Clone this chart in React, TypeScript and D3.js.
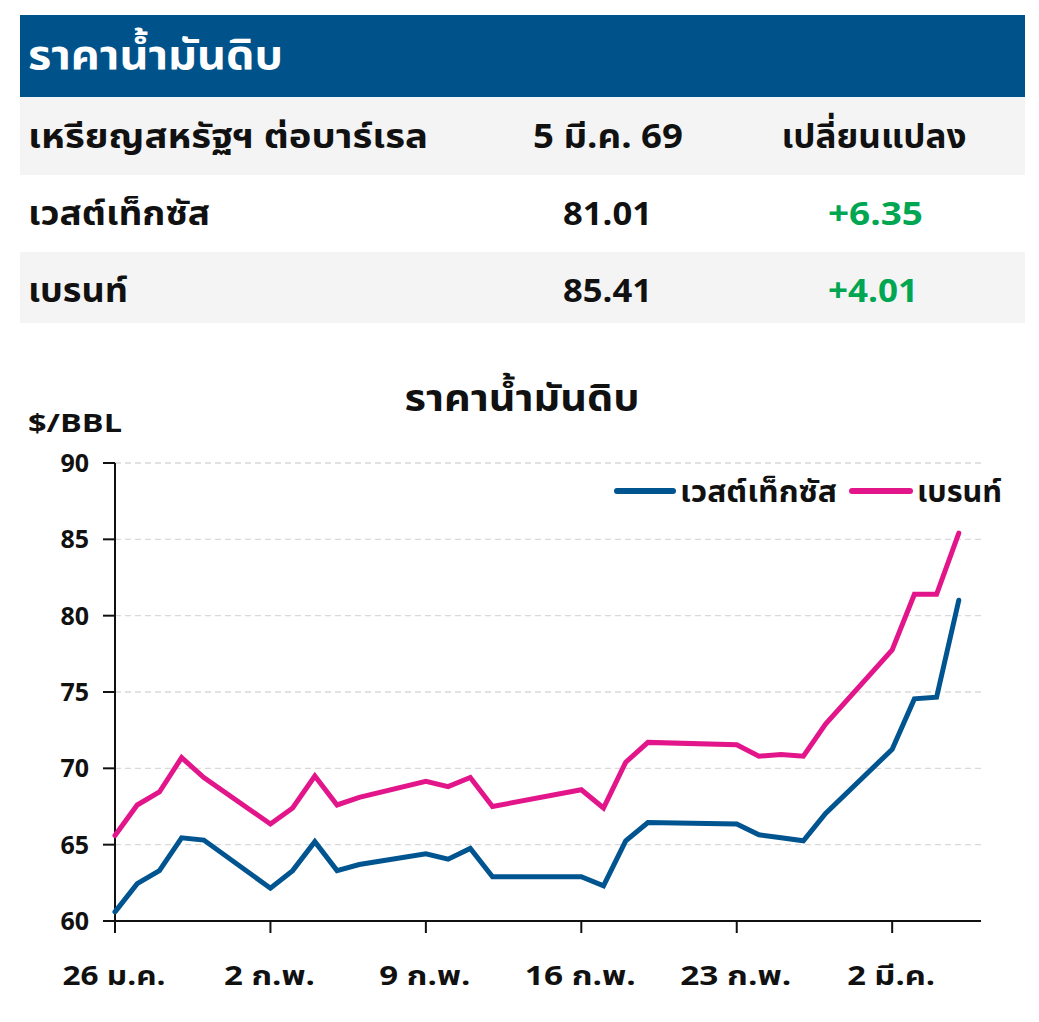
import React from "react";
import * as d3 from "d3";

const dates = [
  "2026-01-26", "2026-01-27", "2026-01-28", "2026-01-29", "2026-01-30",
  "2026-02-02", "2026-02-03", "2026-02-04", "2026-02-05", "2026-02-06",
  "2026-02-09", "2026-02-10", "2026-02-11", "2026-02-12", "2026-02-16",
  "2026-02-17", "2026-02-18", "2026-02-19", "2026-02-23", "2026-02-24",
  "2026-02-25", "2026-02-26", "2026-02-27", "2026-03-02", "2026-03-03",
  "2026-03-04", "2026-03-05",
];
const wti = [
  60.6, 62.45, 63.3, 65.45, 65.3,
  62.15, 63.3, 65.2, 63.3, 63.7,
  64.4, 64.05, 64.75, 62.9, 62.9,
  62.3, 65.25, 66.45, 66.35, 65.65,
  65.45, 65.25, 67.05, 71.25, 74.55,
  74.66, 81.01,
];
const brent = [
  65.6, 67.6, 68.45, 70.7, 69.4,
  66.35, 67.4, 69.5, 67.6, 68.1,
  69.15, 68.8, 69.4, 67.5, 68.6,
  67.4, 70.4, 71.7, 71.55, 70.8,
  70.9, 70.8, 72.9, 77.75, 81.4,
  81.4, 85.41,
];
const yTicks = [60, 65, 70, 75, 80, 85, 90];
const xTickDates = ["2026-01-26", "2026-02-02", "2026-02-09", "2026-02-16", "2026-02-23", "2026-03-02"];
const xTickLabels = ["26 ม.ค.", "2 ก.พ.", "9 ก.พ.", "16 ก.พ.", "23 ก.พ.", "2 มี.ค."];
const xTickLabelWidths = [103, 91, 91, 111, 111, 88];

const tableTitle = "ราคาน้ำมันดิบ";
const tableHeader = ["เหรียญสหรัฐฯ ต่อบาร์เรล", "5 มี.ค. 69", "เปลี่ยนแปลง"];
const tableRows = [
  { name: "เวสต์เท็กซัส", price: "81.01", change: "+6.35" },
  { name: "เบรนท์", price: "85.41", change: "+4.01" },
];
const rowNameWidths = [182, 100];
const rowChangeWidths = [95, 90];
const chartTitle = "ราคาน้ำมันดิบ";
const unitLabel = "$/BBL";
const seriesNames = ["เวสต์เท็กซัส", "เบรนท์"];

const BLUE = "#00548f";
const PINK = "#e2168a";
const HEADER = "#00528a";
const GREEN = "#00a651";
const FONT = "'Noto Sans Thai', 'Noto Sans', 'Liberation Sans', sans-serif";

type TP = {
  x: number; y: number; w?: number; size: number; fill?: string;
  anchor?: "start" | "middle" | "end"; children: string;
};
function T({ x, y, w, size, fill = "#111", anchor = "start", children }: TP) {
  return (
    <text
      x={x} y={y} fontSize={size} fontWeight={700} fill={fill} textAnchor={anchor}
      textLength={w} lengthAdjust={w ? "spacingAndGlyphs" : undefined}
    >
      {children}
    </text>
  );
}

export default function App() {
  const W = 1039, H = 1022;
  const parse = d3.timeParse("%Y-%m-%d");
  const x = d3.scaleTime()
    .domain([parse("2026-01-26")!, parse("2026-03-06")!])
    .range([115, 981]);
  const y = d3.scaleLinear().domain([60, 90]).range([921, 463]);
  const pts = dates.map((d) => parse(d)!);
  const line = d3.line<number>()
    .x((_, i) => x(pts[i]))
    .y((v) => y(v));

  const rowYs = [[97, 175, "#f4f4f4"], [175, 252, "#ffffff"], [252, 323, "#f4f4f4"]] as const;

  return (
    <svg width={W} height={H} viewBox={`0 0 ${W} ${H}`} style={{ position: "absolute", left: 0, top: 0, fontFamily: FONT }}>
      <rect x={0} y={0} width={W} height={H} fill="#fff" />
      {/* table */}
      <rect x={20} y={15} width={1005} height={82} fill={HEADER} />
      <T x={28} y={69} w={255} size={40} fill="#fff">{tableTitle}</T>
      {rowYs.map(([a, b, c], i) => (
        <rect key={i} x={20} y={a} width={1005} height={b - a} fill={c} />
      ))}
      <T x={28} y={148} w={400} size={34}>{tableHeader[0]}</T>
      <T x={608} y={148} w={150} size={34} anchor="middle">{tableHeader[1]}</T>
      <T x={874} y={148} w={185} size={34} anchor="middle">{tableHeader[2]}</T>
      {tableRows.map((r, i) => {
        const by = [225, 302][i];
        return (
          <g key={i}>
            <T x={28} y={by} w={rowNameWidths[i]} size={34}>{r.name}</T>
            <T x={607.5} y={by} w={89} size={32} anchor="middle">{r.price}</T>
            <T x={875.5 - i * 2.5} y={by} w={rowChangeWidths[i]} size={32} fill={GREEN} anchor="middle">{r.change}</T>
          </g>
        );
      })}

      {/* chart title */}
      <T x={522} y={411} w={235} size={37} anchor="middle">{chartTitle}</T>
      <T x={28} y={432} w={94} size={25}>{unitLabel}</T>

      {/* gridlines */}
      {yTicks.filter((t) => t > 60).map((t) => (
        <line key={t} x1={115} x2={981} y1={y(t)} y2={y(t)} stroke="#d9d9d9" strokeWidth={1.4} strokeDasharray="6 4" />
      ))}
      {/* y axis */}
      <line x1={115} x2={115} y1={y(90)} y2={y(60)} stroke="#111" strokeWidth={2} />
      {yTicks.map((t) => (
        <g key={t}>
          <line x1={103} x2={115} y1={y(t)} y2={y(t)} stroke="#111" strokeWidth={2} />
          <T x={89} y={y(t) + 9} size={25} anchor="end">{String(t)}</T>
        </g>
      ))}
      {/* x axis */}
      <line x1={103} x2={981} y1={y(60)} y2={y(60)} stroke="#111" strokeWidth={2} />
      {xTickDates.map((d, i) => {
        const xx = x(parse(d)!);
        return (
          <g key={d}>
            <line x1={xx} x2={xx} y1={921} y2={933} stroke="#111" strokeWidth={2} />
            <T x={xx - 1} y={985} w={xTickLabelWidths[i]} size={27} anchor="middle">{xTickLabels[i]}</T>
          </g>
        );
      })}

      {/* lines */}
      <path d={line(brent) || ""} fill="none" stroke={PINK} strokeWidth={5} strokeLinejoin="miter" strokeLinecap="round" />
      <path d={line(wti) || ""} fill="none" stroke={BLUE} strokeWidth={5} strokeLinejoin="miter" strokeLinecap="round" />

      {/* legend */}
      <line x1={617} x2={673} y1={491} y2={491} stroke={BLUE} strokeWidth={6} strokeLinecap="round" />
      <T x={680} y={502} w={157} size={30}>{seriesNames[0]}</T>
      <line x1={852} x2={910} y1={491} y2={491} stroke={PINK} strokeWidth={6} strokeLinecap="round" />
      <T x={917} y={502} w={85} size={30}>{seriesNames[1]}</T>
    </svg>
  );
}
